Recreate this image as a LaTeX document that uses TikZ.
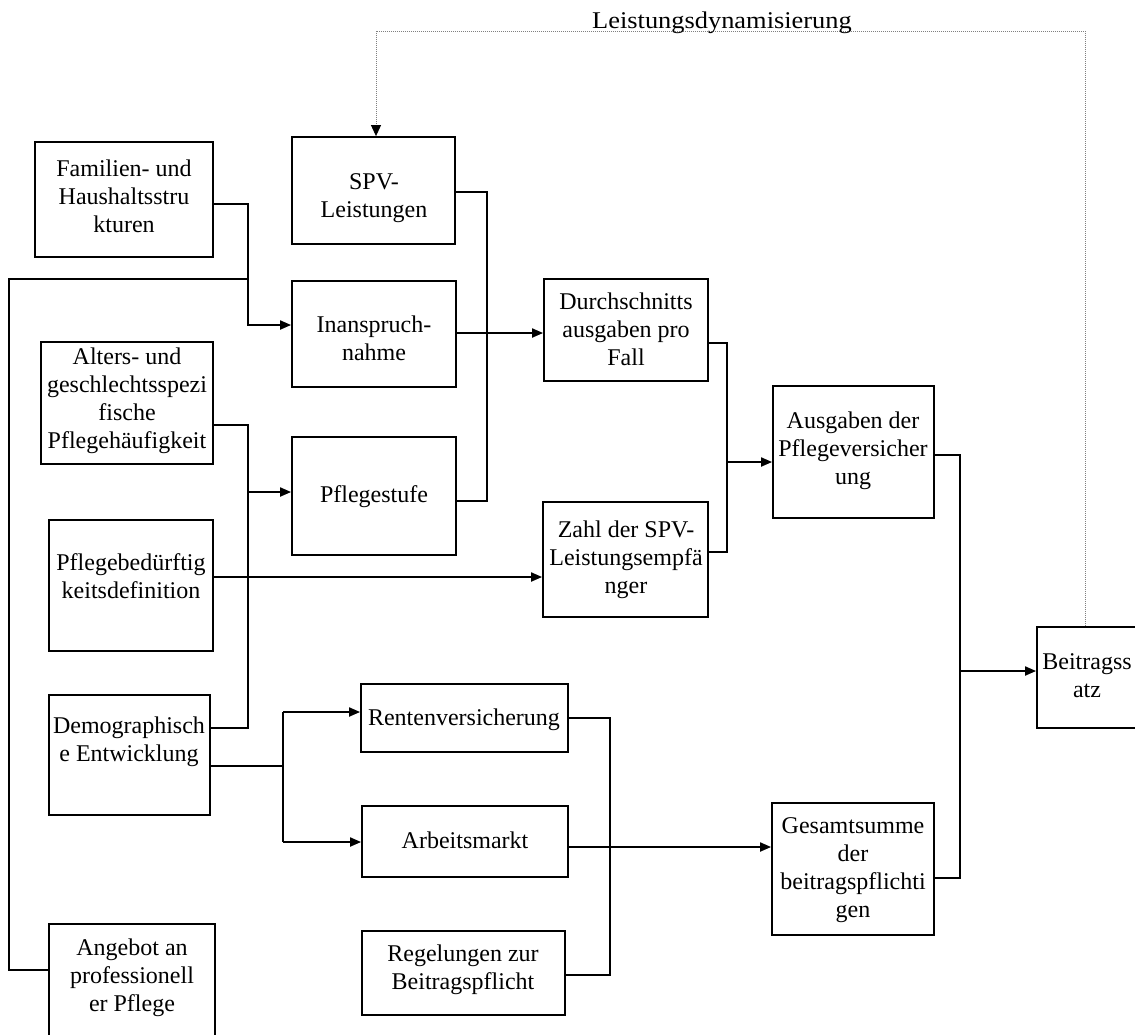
\documentclass[tikz,border=0pt]{standalone}
\usepackage{fontspec}
\setmainfont{Liberation Serif}
\usepackage{graphicx}
\usetikzlibrary{arrows.meta}
\begin{document}
\begin{tikzpicture}[x=1pt,y=-1pt,
  box/.style={draw, line width=1.8pt, rectangle, inner sep=0pt},
  txt/.style={align=center, inner sep=0pt, font=\fontsize{24}{28}\selectfont},
  conn/.style={line width=1.9pt},
  arr/.style={conn, -{Triangle[length=11pt,width=9pt]}},
  dots/.style={line width=0.9pt, gray, dash pattern=on 1pt off 1pt}
]
\useasboundingbox (0,0) rectangle (1135,1034);

% boxes
\node[box, minimum width=178pt, minimum height=115pt] (fam)   at (124,199.5) {};
\node[box, minimum width=163pt, minimum height=107pt] (spv)   at (373.5,190.5) {};
\node[box, minimum width=164pt, minimum height=106pt] (inan)  at (374,334) {};
\node[box, minimum width=164pt, minimum height=118pt] (stufe) at (374,496) {};
\node[box, minimum width=164pt, minimum height=102pt] (durch) at (626,330) {};
\node[box, minimum width=165pt, minimum height=115pt] (zahl)  at (625.5,559.5) {};
\node[box, minimum width=161pt, minimum height=132pt] (ausg)  at (853.5,452) {};
\node[box, minimum width=103pt, minimum height=101pt] (beit)  at (1088.5,677.5) {};
\node[box, minimum width=162pt, minimum height=132pt] (ges)   at (853,869) {};
\node[box, minimum width=172pt, minimum height=122pt] (alt)   at (127,403) {};
\node[box, minimum width=164pt, minimum height=131pt] (pbed)  at (131,585.5) {};
\node[box, minimum width=161pt, minimum height=120pt] (demo)  at (129.5,755) {};
\node[box, minimum width=166pt, minimum height=136pt] (ang)   at (132,992) {};
\node[box, minimum width=207pt, minimum height=68pt]  (rent)  at (464.5,718) {};
\node[box, minimum width=206pt, minimum height=71pt]  (arb)   at (465,841.5) {};
\node[box, minimum width=203pt, minimum height=84pt]  (reg)   at (463.5,973) {};

% texts
\node[txt] (tfam)   at (124,196) {Familien- und\\Haushaltsstru\\kturen};
\node[txt] (tspv)   at (374,198) {SPV-\\Leistungen};
\node[txt] (tinan)  at (374,338) {Inanspruch-\\nahme};
\node[txt] (tstufe) at (374,497) {Pflegestufe};
\node[txt] (tdurch) at (626,329) {Durchschnitts\\ausgaben pro\\Fall};
\node[txt] (tzahl)  at (626,560) {Zahl der SPV-\\Leistungsempfä\\nger};
\node[txt] (tausg)  at (853,451) {Ausgaben der\\Pflegeversicher\\ung};
\node[txt] (tbeit)  at (1087,676) {Beitragss\\atz};
\node[txt] (tges)   at (853,870) {Gesamtsumme\\der\\beitragspflichti\\gen};
\node[txt] (talt)   at (127,401) {Alters- und\\geschlechtsspezi\\fische\\Pflegehäufigkeit};
\node[txt] (tpbed)  at (131,576) {Pflegebedürftig\\keitsdefinition};
\node[txt] (tdemo)  at (129,742) {Demographisch\\e Entwicklung};
\node[txt] (tang)   at (132,978) {Angebot an\\professionell\\er Pflege};
\node[txt] (trent)  at (464,720) {Rentenversicherung};
\node[txt] (tarb)   at (465,840) {Arbeitsmarkt};
\node[txt] (treg)   at (463,970) {Regelungen zur\\Beitragspflicht};

% junction coordinates
\coordinate (c1) at (248,204);
\coordinate (c2) at (248,325);
\coordinate (c3) at (9,970);
\coordinate (c4) at (9,279);
\coordinate (c5) at (248,279);
\coordinate (c6) at (248,425);
\coordinate (c7) at (248,728);
\coordinate (c8) at (248,492);
\coordinate (c9) at (0,577);
\coordinate (c10) at (487,192);
\coordinate (c11) at (487,501);
\coordinate (c12) at (0,333);
\coordinate (c13) at (727,343);
\coordinate (c14) at (727,552);
\coordinate (c15) at (727,462);
\coordinate (c16) at (960,455);
\coordinate (c17) at (960,878);
\coordinate (c18) at (960,671);
\coordinate (c19) at (283,766);
\coordinate (c20) at (283,712);
\coordinate (c21) at (283,842);
\coordinate (c22) at (610,718);
\coordinate (c23) at (610,975);
\coordinate (c24) at (0,847);
\coordinate (d1) at (1085,31);
\coordinate (d2) at (376,31);

% connectors
\draw[arr] (fam.east |- c1) -- (c1) -- (c2) -- (inan.west |- c2);
\draw[conn] (ang.west |- c3) -- (c3) -- (c4) -- (c5);
\draw[conn] (alt.east |- c6) -- (c6) -- (c7) -- (demo.east |- c7);
\draw[arr] (c8) -- (stufe.west |- c8);
\draw[arr] (pbed.east |- c9) -- (zahl.west |- c9);
\draw[conn] (spv.east |- c10) -- (c10) -- (c11) -- (stufe.east |- c11);
\draw[arr] (inan.east |- c12) -- (durch.west |- c12);
\draw[conn] (durch.east |- c13) -- (c13) -- (c14) -- (zahl.east |- c14);
\draw[arr] (c15) -- (ausg.west |- c15);
\draw[conn] (ausg.east |- c16) -- (c16) -- (c17) -- (ges.east |- c17);
\draw[arr] (c18) -- (beit.west |- c18);
\draw[conn] (demo.east |- c19) -- (c19);
\draw[conn] (c20) -- (c21);
\draw[arr] (c20) -- (rent.west |- c20);
\draw[arr] (c21) -- (arb.west |- c21);
\draw[conn] (rent.east |- c22) -- (c22) -- (c23) -- (reg.east |- c23);
\draw[arr] (arb.east |- c24) -- (ges.west |- c24);

% feedback (dotted)
\draw[dots] (beit.north -| d1) -- (d1) -- (d2) -- ([yshift=9pt]spv.north -| d2);
\draw[line width=0.9pt, black, -{Triangle[length=11pt,width=10pt]}] ([yshift=10pt]spv.north -| d2) -- (spv.north -| d2);
\node[txt, anchor=base] (tleist) at (722,28) {\scalebox{1.1}[1]{Leistungsdynamisierung}};
\end{tikzpicture}
\end{document}
